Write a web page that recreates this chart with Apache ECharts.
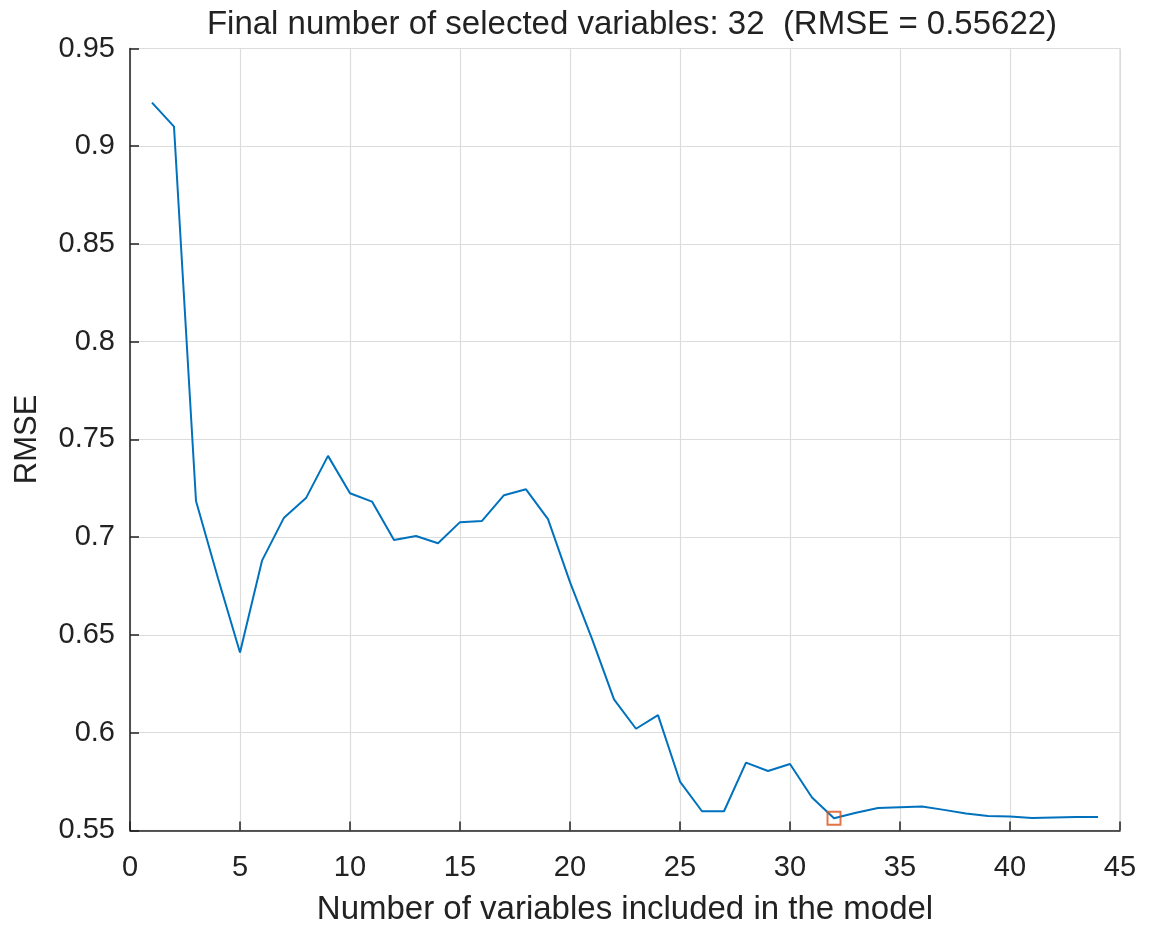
<!DOCTYPE html>
<html>
<head>
<meta charset="utf-8">
<script src="https://cdn.jsdelivr.net/npm/echarts@6/dist/echarts.min.js"></script>
<style>
  html, body { margin: 0; padding: 0; background: #fff; }
  #chart { width: 1155px; height: 926px; }
</style>
</head>
<body>
<div id="chart"></div>
<script>
// number of variables in the model (x) and the RMSE for each
const nVars = [1, 2, 3, 4, 5, 6, 7, 8, 9, 10, 11, 12, 13, 14, 15, 16, 17, 18, 19, 20, 21, 22,
  23, 24, 25, 26, 27, 28, 29, 30, 31, 32, 33, 34, 35, 36, 37, 38, 39, 40, 41, 42, 43, 44];
const rmse = [0.9223, 0.910, 0.7185, 0.679, 0.641, 0.688, 0.710, 0.720, 0.7416, 0.7225,
  0.7182, 0.6986, 0.7006, 0.6969, 0.7077, 0.7083, 0.7215, 0.7245, 0.7092, 0.677,
  0.648, 0.617, 0.602, 0.609, 0.575, 0.5598, 0.5598, 0.5847, 0.5804, 0.584,
  0.5668, 0.55622, 0.559, 0.5615, 0.5619, 0.5622, 0.5605, 0.5586, 0.5574, 0.5571,
  0.5564, 0.5566, 0.5568, 0.5568];
// selected model
const bestN = 32;
const bestRmse = 0.55622;

const font = "Liberation Sans, Arial, sans-serif";

let chart = echarts.init(document.getElementById('chart'));
chart.setOption({
  animation: false,
  title: {
    text: `Final number of selected variables: ${bestN}  (RMSE = ${bestRmse})`,
    left: 627,
    textAlign: 'center',
    top: 3,
    textStyle: { fontFamily: font, fontWeight: 'normal', fontSize: 33, color: '#222' }
  },
  grid: {
    left: 130,
    right: 35,
    top: 48.5,
    bottom: 95.6,
    outerBoundsMode: 'none',
    containLabel: false,
    show: true,
    borderColor: '#d0d0d0',
    borderWidth: 1
  },
  xAxis: {
    type: 'value',
    min: 0,
    max: 45,
    interval: 5,
    name: 'Number of variables included in the model',
    nameLocation: 'middle',
    nameGap: 63,
    nameTextStyle: { fontFamily: font, fontSize: 33, color: '#222' },
    axisLine: { show: true, onZero: false, lineStyle: { color: '#222', width: 1.5 } },
    axisTick: { show: true, inside: true, length: 9, lineStyle: { color: '#222', width: 1.5 } },
    axisLabel: { fontFamily: font, fontSize: 29, color: '#222', margin: 23 },
    splitLine: { show: true, lineStyle: { color: '#dcdcdc', width: 1.2 } }
  },
  yAxis: {
    type: 'value',
    min: 0.55,
    max: 0.95,
    interval: 0.05,
    name: 'RMSE',
    nameLocation: 'middle',
    nameGap: 87,
    nameTextStyle: { fontFamily: font, fontSize: 31, color: '#222' },
    axisLine: { show: true, lineStyle: { color: '#222', width: 1.5 } },
    axisTick: { show: true, inside: true, length: 9, lineStyle: { color: '#222', width: 1.5 } },
    axisLabel: {
      fontFamily: font, fontSize: 29, color: '#222', margin: 15,
      formatter: v => +v.toFixed(2) + ''
    },
    splitLine: { show: true, lineStyle: { color: '#dcdcdc', width: 1.2 } }
  },
  series: [
    {
      type: 'line',
      data: nVars.map((n, i) => [n, rmse[i]]),
      showSymbol: false,
      lineStyle: { color: '#0072BD', width: 2 },
      z: 3
    },
    {
      type: 'scatter',
      data: [[bestN, bestRmse]],
      symbol: 'rect',
      symbolSize: 13,
      itemStyle: { color: 'transparent', borderColor: '#D95319', borderWidth: 2 },
      z: 4
    }
  ]
});
</script>
</body>
</html>
